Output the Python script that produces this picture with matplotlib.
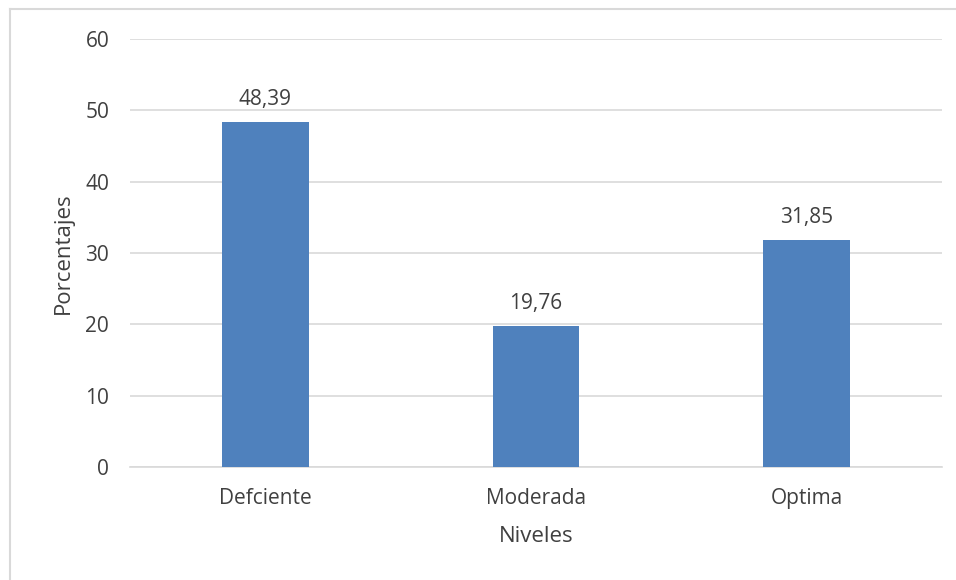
import matplotlib.pyplot as plt
from matplotlib.lines import Line2D

niveles = ["Defciente", "Moderada", "Optima"]
porcentajes = [48.39, 19.76, 31.85]
etiquetas = ["48,39", "19,76", "31,85"]

plt.rcParams['font.family'] = ['Open Sans', 'DejaVu Sans']
gris = '#404040'

fig = plt.figure(figsize=(9.56, 5.8), dpi=100)
ax = fig.add_axes([130/956, 113/580, 812/956, 428/580])

x = range(len(niveles))
bars = ax.bar(x, porcentajes, width=0.32, color='#4f81bd', zorder=3)
for b, t in zip(bars, etiquetas):
    ax.text(b.get_x() + b.get_width()/2, b.get_height() + 1.7, t,
            ha='center', va='bottom', fontsize=15, color=gris)

ax.set_xlim(-0.5, 2.5)
ax.set_ylim(0, 60)
ax.set_yticks(range(0, 61, 10))
ax.set_xticks(list(x))
ax.set_xticklabels(niveles)
ax.grid(axis='y', color='#d9d9d9', linewidth=1.2, zorder=0)
for s in ['top', 'right', 'left']:
    ax.spines[s].set_visible(False)
ax.spines['bottom'].set_color('#d9d9d9')
ax.spines['bottom'].set_linewidth(1.2)
ax.tick_params(length=0, labelsize=15, colors=gris)
ax.tick_params(axis='y', pad=15)
ax.tick_params(axis='x', pad=15)
ax.set_xlabel("Niveles", fontsize=16, color=gris, labelpad=12)
ax.set_ylabel("Porcentajes", fontsize=16, color=gris, labelpad=8)

# borde exterior del gráfico
fig.add_artist(Line2D([10/956, 10/956], [0, 1 - 9/580], color='#d9d9d9', lw=1.5))
fig.add_artist(Line2D([10/956, 1], [1 - 9/580, 1 - 9/580], color='#d9d9d9', lw=1.5))

fig.savefig("out.png", dpi=100)
